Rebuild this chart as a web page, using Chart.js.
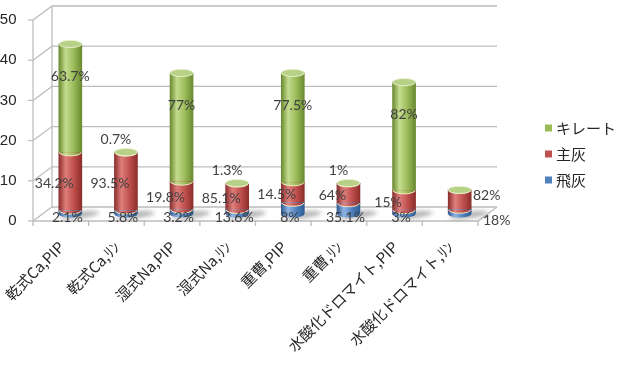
<!DOCTYPE html>
<html><head><meta charset="utf-8">
<script src="https://cdn.jsdelivr.net/npm/chart.js@4/dist/chart.umd.min.js"></script>
<style>html,body{margin:0;padding:0;background:#fff}#wrap{width:619px;height:387px;position:relative}</style>
</head><body><div id="wrap"><canvas id="c"></canvas></div>
<script>
const categories = ['乾式Ca,PIP','乾式Ca,ﾘﾝ','湿式Na,PIP','湿式Na,ﾘﾝ','重曹,PIP','重曹,ﾘﾝ','水酸化ドロマイト,PIP','水酸化ドロマイト,ﾘﾝ'];
const seriesNames = ['飛灰','主灰','キレート'];
const flyAsh  = [0.89, 0.89, 1.12, 1.05, 2.81, 2.70, 0.98, 1.08];
const mainAsh = [14.47,14.40, 6.95, 6.55, 5.09, 4.93, 4.92, 4.92];
const chelate = [26.94, 0.11,27.03, 0.10,27.20, 0.08,26.90, 0];
const flyAshPct  = ['2.1%','5.8%','3.2%','13.6%','8%','35.1%','3%','18%'];
const mainAshPct = ['34.2%','93.5%','19.8%','85.1%','14.5%','64%','15%','82%'];
const chelatePct = ['63.7%','0.7%','77%','1.3%','77.5%','1%','82%',''];
const yTicks = [0,10,20,30,40,50];

const palette = [
  {base:'#4F81BD', dark:'#2E5B93', light:'#8FB4E3', cap:'#A7C4EA'},
  {base:'#C0504D', dark:'#8C2E2B', light:'#DE7F7C', cap:'#D98B89'},
  {base:'#9BBB59', dark:'#6B8A32', light:'#C4DC8F', cap:'#B7D186'}
];
const DX = 9.5, DY = 7, BAR_W = 23, ER = 3.6;

function grad(ctx, x, p){
  if (!isFinite(x)) return p.base;
  const g = ctx.createLinearGradient(x - BAR_W/2, 0, x + BAR_W/2, 0);
  g.addColorStop(0, p.dark); g.addColorStop(0.3, p.light);
  g.addColorStop(0.65, p.base); g.addColorStop(1, p.dark);
  return g;
}
function bg(i){
  return (c) => {
    const xs = c.chart.scales && c.chart.scales.x;
    if (!xs || c.dataIndex === undefined) return palette[i].base;
    return grad(c.chart.ctx, xs.getPixelForValue(c.dataIndex), palette[i]);
  };
}
function noPad(s){ s.paddingLeft = 0; s.paddingRight = 0; s.paddingTop = 0; s.paddingBottom = 0; }

const frame3d = {
  id:'frame3d',
  beforeDatasetsDraw(chart){
    const {ctx} = chart; const ys = chart.scales.y, xs = chart.scales.x;
    const L = xs.left, R = xs.right;
    ctx.save();
    ctx.strokeStyle = '#BDBDBD'; ctx.lineWidth = 1.3;
    yTicks.forEach(v => {
      const yb = ys.getPixelForValue(v) - DY, yf = yb + 2*DY;
      ctx.beginPath();
      ctx.moveTo(L - DX, yf); ctx.lineTo(L + DX, yb); ctx.lineTo(R + DX, yb);
      ctx.stroke();
      ctx.beginPath(); ctx.moveTo(L - DX - 5, yf); ctx.lineTo(L - DX, yf); ctx.stroke();
    });
    const yb0 = ys.getPixelForValue(0) - DY, yf0 = yb0 + 2*DY;
    const yb5 = ys.getPixelForValue(50) - DY, yf5 = yb5 + 2*DY;
    ctx.beginPath();
    ctx.moveTo(L - DX, yf0); ctx.lineTo(L - DX, yf5);
    ctx.moveTo(L + DX, yb0); ctx.lineTo(L + DX, yb5);
    ctx.moveTo(L - DX, yf0); ctx.lineTo(R - DX, yf0); ctx.lineTo(R + DX, yb0);
    ctx.stroke();
    const n = categories.length;
    for (let k = 0; k <= n; k++){
      const x = L - DX + k*(R - L)/n;
      ctx.beginPath(); ctx.moveTo(x, yf0); ctx.lineTo(x, yf0 + 5); ctx.stroke();
    }
    const base = ys.getPixelForValue(0);
    categories.forEach((_, i) => {
      const x = xs.getPixelForValue(i);
      ctx.save();
      ctx.filter = 'blur(2px)';
      ctx.fillStyle = 'rgba(90,90,90,0.45)';
      ctx.beginPath();
      ctx.ellipse(x + 9, base + 1, BAR_W/2 + 8, 3.5, -0.12, 0, Math.PI*2);
      ctx.fill();
      ctx.restore();
    });
    ctx.restore();
  },
  afterDatasetsDraw(chart){
    const {ctx} = chart;
    const metas = chart.data.datasets.map((_, i) => chart.getDatasetMeta(i));
    ctx.save();
    const n = categories.length;
    for (let j = 0; j < n; j++){
      metas.forEach((m, i) => {
        const el = m.data[j]; if (!el) return;
        const x = el.x, b = el.base, t = el.y;
        if (b - t < 0.01 && i !== metas.length - 1) return;
        ctx.fillStyle = grad(ctx, x, palette[i]);
        ctx.beginPath();
        ctx.ellipse(x, b, BAR_W/2, ER, 0, 0, Math.PI);
        ctx.fill();
        if (i > 0){
          ctx.strokeStyle = 'rgba(245,240,200,0.95)'; ctx.lineWidth = 1;
          ctx.beginPath(); ctx.ellipse(x, b, BAR_W/2 - 0.5, ER, 0, 0, Math.PI); ctx.stroke();
        }
      });
      const top = metas[metas.length - 1].data[j];
      if (top){
        ctx.fillStyle = palette[2].cap;
        ctx.beginPath(); ctx.ellipse(top.x, top.y, BAR_W/2, ER, 0, 0, Math.PI*2); ctx.fill();
        ctx.strokeStyle = 'rgba(235,240,210,0.9)'; ctx.lineWidth = 1;
        ctx.stroke();
      }
    }
    ctx.font = '14px "Liberation Sans Narrow", "Lato", sans-serif';
    ctx.fillStyle = '#404040'; ctx.textAlign = 'center'; ctx.textBaseline = 'middle';
    for (let j = 0; j < n; j++){
      const last = j === n - 1;
      const fl = metas[0].data[j], ma = metas[1].data[j], ch = metas[2].data[j];
      if (chelatePct[j]){
        const h = ch.base - ch.y;
        if (h > 30) ctx.fillText(chelatePct[j], ch.x, ch.y + 0.3*h);
        else ctx.fillText(chelatePct[j], ch.x - 10, ch.y - 13);
      }
      const mid = (ma.y + ma.base)/2;
      if (last) ctx.fillText(mainAshPct[j], ma.x + 27, ma.y + 6);
      else ctx.fillText(mainAshPct[j], ma.x - 16, mid + 2);
      if (last) ctx.fillText(flyAshPct[j], fl.x + 37, fl.base + 6);
      else ctx.fillText(flyAshPct[j], fl.x - 3, fl.base + 3);
    }
    ctx.font = '15px "Noto Sans CJK JP", sans-serif';
    ctx.textAlign = 'left';
    const lx = 545, ly0 = 128, gap = 26;
    for (let k = 0; k < 3; k++){
      const i = 2 - k, y = ly0 + k*gap;
      ctx.fillStyle = palette[i].base;
      ctx.fillRect(lx, y - 3.5, 7, 7);
      ctx.fillStyle = '#262626';
      ctx.fillText(chart.data.datasets[i].label, lx + 11, y);
    }
    ctx.restore();
  }
};

new Chart(document.getElementById('c'), {
  type:'bar',
  data:{
    labels: categories,
    datasets: [
      {label: seriesNames[0], data: flyAsh,  backgroundColor: bg(0)},
      {label: seriesNames[1], data: mainAsh, backgroundColor: bg(1)},
      {label: seriesNames[2], data: chelate, backgroundColor: bg(2)}
    ]
  },
  options:{
    responsive:true, maintainAspectRatio:false, animation:false,
    layout:{autoPadding:false, padding:{top:13, right:131.5, left:0, bottom:0}},
    datasets:{bar:{barThickness:BAR_W, borderWidth:0}},
    plugins:{legend:{display:false}, tooltip:{enabled:false}},
    scales:{
      x:{stacked:true, grid:{display:false, drawTicks:false}, border:{display:false},
         ticks:{autoSkip:false, minRotation:45, maxRotation:45, labelOffset:-9, padding:24,
                color:'#262626', font:{family:'"Noto Sans CJK JP", sans-serif', size:15}},
         afterFit(s){ s.height = 173; noPad(s); }},
      y:{stacked:true, min:0, max:50, grid:{display:false, drawTicks:false}, border:{display:false},
         ticks:{stepSize:10, labelOffset:DY, padding:26, color:'#262626',
                font:{family:'"Liberation Sans", sans-serif', size:15}},
         afterFit(s){ s.width = 42.5; noPad(s); }}
    }
  },
  plugins:[frame3d]
});
</script></body></html>
